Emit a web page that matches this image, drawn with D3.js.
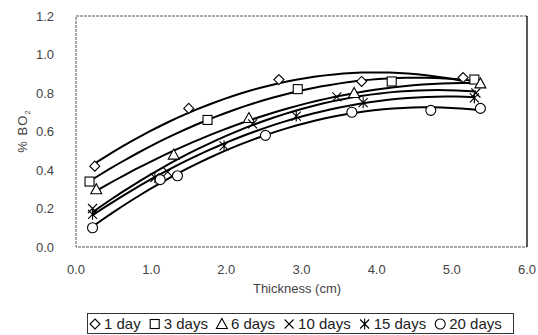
<!DOCTYPE html>
<html>
<head>
  <meta charset="utf-8">
  <style>
    body { margin: 0; padding: 0; background: white; }
    svg text { font-family: "Liberation Sans", Arial, sans-serif; }
    .tick-label { fill: #444; font-size: 13px; }
    .curve { fill: none; stroke: #000; stroke-width: 2; }
    .marker { fill: white; stroke: #000; stroke-width: 1.1; }
  </style>
</head>
<body>
<div id="chart"></div>
<script src="https://d3js.org/d3.v7.min.js"></script>
<script>
  // data
  var seriesNames = ["1 day", "3 days", "6 days", "10 days", "15 days", "20 days"]
  var seriesSymbols = ["diamond", "square", "triangle", "cross", "star", "circle"]

  var day1X = [0.25, 1.5, 2.7, 3.8, 5.15]
  var day1Y = [0.42, 0.72, 0.87, 0.86, 0.88]
  var day3X = [0.18, 1.75, 2.95, 4.2, 5.3]
  var day3Y = [0.34, 0.66, 0.82, 0.86, 0.87]
  var day6X = [0.27, 1.3, 2.3, 3.7, 5.38]
  var day6Y = [0.30, 0.48, 0.67, 0.80, 0.85]
  var day10X = [0.22, 1.22, 2.35, 3.47, 5.32]
  var day10Y = [0.20, 0.39, 0.64, 0.78, 0.80]
  var day15X = [0.22, 1.05, 1.97, 2.93, 3.82, 5.3]
  var day15Y = [0.17, 0.36, 0.525, 0.68, 0.75, 0.775]
  var day20X = [0.22, 1.12, 1.35, 2.52, 3.67, 4.72, 5.38]
  var day20Y = [0.10, 0.35, 0.37, 0.58, 0.70, 0.71, 0.72]

  var xTicks = [0, 1, 2, 3, 4, 5, 6]
  var yTicks = [0, 0.2, 0.4, 0.6, 0.8, 1.0, 1.2]

  var allX = [day1X, day3X, day6X, day10X, day15X, day20X]
  var allY = [day1Y, day3Y, day6Y, day10Y, day15Y, day20Y]

  var width = 538,
      height = 335
  var margin = {left: 76, top: 16, right: 11, bottom: 88}

  var svg = d3.select("#chart").append("svg")
      .attr("width", width)
      .attr("height", height)

  var x = d3.scaleLinear().domain([0, 6]).range([margin.left, width - margin.right])
  var y = d3.scaleLinear().domain([0, 1.2]).range([height - margin.bottom, margin.top])

  // plot frame: dotted on three sides, solid on the right
  var x0 = x(0), x1 = x(6), y0 = y(0), y1 = y(1.2)
  svg.append("path")
      .attr("d", "M" + x1 + "," + y1 + "H" + x0 + "V" + y0 + "H" + x1)
      .attr("fill", "none")
      .attr("stroke", "#555")
      .attr("stroke-width", 1)
      .attr("stroke-dasharray", "3,1")
  svg.append("line")
      .attr("x1", x1).attr("x2", x1).attr("y1", y1).attr("y2", y0)
      .attr("stroke", "#222").attr("stroke-width", 1.5)

  // tick labels
  svg.append("g").selectAll("text")
      .data(xTicks).enter().append("text")
      .attr("class", "tick-label")
      .attr("x", function (d) { return x(d) })
      .attr("y", y0 + 27)
      .attr("text-anchor", "middle")
      .text(d3.format(".1f"))

  svg.append("g").selectAll("text")
      .data(yTicks).enter().append("text")
      .attr("class", "tick-label")
      .attr("x", 54)
      .attr("y", function (d) { return y(d) + 4.5 })
      .attr("text-anchor", "end")
      .text(d3.format(".1f"))

  // axis titles
  svg.append("text")
      .attr("class", "tick-label")
      .attr("x", 297)
      .attr("y", 293)
      .attr("text-anchor", "middle")
      .text("Thickness (cm)")

  var yTitle = svg.append("text")
      .attr("class", "tick-label")
      .attr("transform", "translate(27,131) rotate(-90)")
      .attr("text-anchor", "middle")
      .attr("letter-spacing", "1px")
  yTitle.append("tspan").text("% BO")
  yTitle.append("tspan").attr("font-size", "8px").attr("dy", 3).text("2")

  // quadratic trendline fitted to each series (least squares)
  function fitQuadratic(xs, ys) {
    var s = [0, 0, 0, 0, 0], t = [0, 0, 0]
    xs.forEach(function (xv, i) {
      var p = 1
      for (var k = 0; k < 5; k++) { s[k] += p; if (k < 3) t[k] += p * ys[i]; p *= xv }
    })
    var m = [[s[0], s[1], s[2], t[0]], [s[1], s[2], s[3], t[1]], [s[2], s[3], s[4], t[2]]]
    for (var c = 0; c < 3; c++) {
      for (var r = c + 1; r < 3; r++) {
        var f = m[r][c] / m[c][c]
        for (var k = c; k < 4; k++) m[r][k] -= f * m[c][k]
      }
    }
    var coef = [0, 0, 0]
    for (var r = 2; r >= 0; r--) {
      var v = m[r][3]
      for (var k = r + 1; k < 3; k++) v -= m[r][k] * coef[k]
      coef[r] = v / m[r][r]
    }
    return function (xv) { return coef[0] + coef[1] * xv + coef[2] * xv * xv }
  }

  var line = d3.line()
      .x(function (d) { return x(d[0]) })
      .y(function (d) { return y(d[1]) })

  allX.forEach(function (xs, i) {
    var f = fitQuadratic(xs, allY[i])
    var lo = d3.min(xs), hi = d3.max(xs)
    var pts = d3.range(0, 41).map(function (k) {
      var xv = lo + (hi - lo) * k / 40
      return [xv, f(xv)]
    })
    svg.append("path").attr("class", "curve").attr("d", line(pts))
  })

  // marker shapes
  function drawSymbol(g, type, cx, cy) {
    if (type === "diamond") {
      g.append("path").attr("class", "marker")
        .attr("d", "M" + cx + "," + (cy - 5) + "L" + (cx + 5) + "," + cy + "L" + cx + "," + (cy + 5) + "L" + (cx - 5) + "," + cy + "Z")
    } else if (type === "square") {
      g.append("rect").attr("class", "marker")
        .attr("x", cx - 4.5).attr("y", cy - 4.5).attr("width", 9).attr("height", 9)
    } else if (type === "triangle") {
      g.append("path").attr("class", "marker")
        .attr("d", "M" + cx + "," + (cy - 5.5) + "L" + (cx + 5.5) + "," + (cy + 4.5) + "L" + (cx - 5.5) + "," + (cy + 4.5) + "Z")
    } else if (type === "cross") {
      g.append("path").attr("class", "marker").attr("stroke-width", 1.4)
        .attr("d", "M" + (cx - 4.5) + "," + (cy - 4.5) + "L" + (cx + 4.5) + "," + (cy + 4.5) + "M" + (cx + 4.5) + "," + (cy - 4.5) + "L" + (cx - 4.5) + "," + (cy + 4.5))
    } else if (type === "star") {
      g.append("path").attr("class", "marker").attr("stroke-width", 1.6)
        .attr("d", "M" + (cx - 4.5) + "," + (cy - 4.5) + "L" + (cx + 4.5) + "," + (cy + 4.5) + "M" + (cx + 4.5) + "," + (cy - 4.5) + "L" + (cx - 4.5) + "," + (cy + 4.5) + "M" + cx + "," + (cy - 5.5) + "V" + (cy + 5.5))
    } else {
      g.append("circle").attr("class", "marker").attr("cx", cx).attr("cy", cy).attr("r", 5)
    }
  }

  var markers = svg.append("g")
  allX.forEach(function (xs, i) {
    xs.forEach(function (xv, j) {
      drawSymbol(markers, seriesSymbols[i], x(xv), y(allY[i][j]))
    })
  })

  // legend
  var legend = svg.append("g")
  legend.append("rect")
      .attr("x", 87.5).attr("y", 313.5).attr("width", 426).attr("height", 20)
      .attr("fill", "none").attr("stroke", "#333").attr("stroke-width", 1)

  var cursor = 90
  seriesNames.forEach(function (name, i) {
    drawSymbol(legend, seriesSymbols[i], cursor + 5, 324)
    var t = legend.append("text")
        .attr("x", cursor + 14)
        .attr("y", 329)
        .attr("font-size", "15px")
        .attr("fill", "#222")
        .text(name)
    cursor += 14 + t.node().getComputedTextLength() + 9
  })
</script>
</body>
</html>
